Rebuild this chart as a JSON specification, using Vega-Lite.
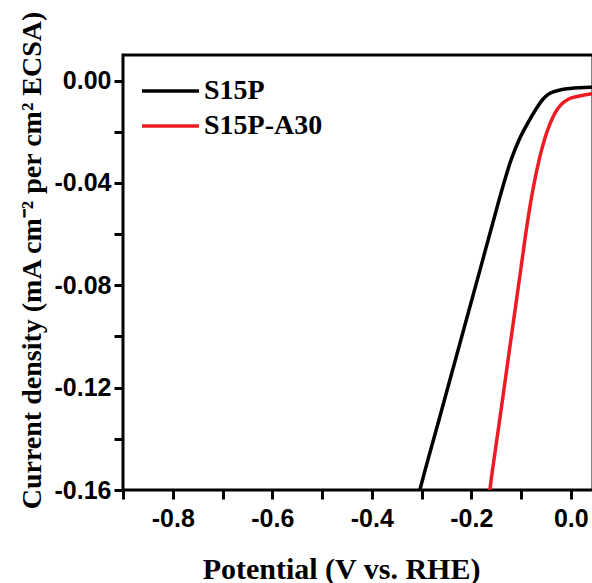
{
  "$schema": "https://vega.github.io/schema/vega-lite/v6.json",
  "autosize": {"type": "none"},
  "padding": {"left": 123, "top": 55, "right": 0, "bottom": 93},
  "width": 470,
  "height": 435,
  "background": "white",
  "config": {
    "view": {"stroke": "black", "strokeWidth": 3},
    "axis": {"domain": false, "grid": false, "tickColor": "black", "tickWidth": 3, "tickSize": 9, "labelFont": "Liberation Sans", "labelFontWeight": "bold", "labelFontSize": 25, "labelColor": "black", "titleFont": "Liberation Serif", "titleFontWeight": "bold", "titleColor": "black"}
  },
  "data": {"values": [
    {"V": -0.304, "I": -0.1605, "s": "S15P"},
    {"V": -0.302, "I": -0.159, "s": "S15P"},
    {"V": -0.2612, "I": -0.130, "s": "S15P"},
    {"V": -0.2248, "I": -0.1041, "s": "S15P"},
    {"V": -0.1809, "I": -0.0729, "s": "S15P"},
    {"V": -0.1589, "I": -0.0572, "s": "S15P"},
    {"V": -0.137, "I": -0.0418, "s": "S15P"},
    {"V": -0.120, "I": -0.0310, "s": "S15P"},
    {"V": -0.104, "I": -0.0232, "s": "S15P"},
    {"V": -0.087, "I": -0.0168, "s": "S15P"},
    {"V": -0.070, "I": -0.0112, "s": "S15P"},
    {"V": -0.056, "I": -0.0073, "s": "S15P"},
    {"V": -0.046, "I": -0.0055, "s": "S15P"},
    {"V": -0.035, "I": -0.0044, "s": "S15P"},
    {"V": -0.020, "I": -0.0036, "s": "S15P"},
    {"V": -0.0081, "I": -0.0032, "s": "S15P"},
    {"V": 0.0387, "I": -0.0026, "s": "S15P"},
    {"V": 0.05, "I": -0.0025, "s": "S15P"},
    {"V": -0.163, "I": -0.1605, "s": "S15P-A30"},
    {"V": -0.162, "I": -0.159, "s": "S15P-A30"},
    {"V": -0.141, "I": -0.130, "s": "S15P-A30"},
    {"V": -0.1205, "I": -0.1015, "s": "S15P-A30"},
    {"V": -0.0998, "I": -0.0729, "s": "S15P-A30"},
    {"V": -0.0885, "I": -0.0572, "s": "S15P-A30"},
    {"V": -0.0755, "I": -0.0420, "s": "S15P-A30"},
    {"V": -0.063, "I": -0.0305, "s": "S15P-A30"},
    {"V": -0.052, "I": -0.0225, "s": "S15P-A30"},
    {"V": -0.042, "I": -0.0170, "s": "S15P-A30"},
    {"V": -0.032, "I": -0.0128, "s": "S15P-A30"},
    {"V": -0.020, "I": -0.0095, "s": "S15P-A30"},
    {"V": -0.005, "I": -0.0073, "s": "S15P-A30"},
    {"V": 0.015, "I": -0.0061, "s": "S15P-A30"},
    {"V": 0.0387, "I": -0.0052, "s": "S15P-A30"},
    {"V": 0.05, "I": -0.0050, "s": "S15P-A30"}
  ]},
  "mark": {"type": "line", "strokeWidth": 3.5, "clip": true, "interpolate": "monotone"},
  "encoding": {
    "x": {"field": "V", "type": "quantitative", "scale": {"domain": [-0.9, 0.0447], "nice": false, "zero": false},
      "axis": {"values": [-0.9, -0.8, -0.7, -0.6, -0.5, -0.4, -0.3, -0.2, -0.1, 0.0], "labelExpr": "abs(round(datum.value*10)) % 2 == 0 ? replace(format(datum.value, '.1f'), '−', '-') : ''", "labelPadding": 7, "labelFlush": false, "labelOverlap": false,
        "title": "Potential (V vs. RHE)", "titleFontSize": 30, "titleX": 218, "titleY": 88, "titleBaseline": "alphabetic", "titleAlign": "center"}},
    "y": {"field": "I", "type": "quantitative", "scale": {"domain": [-0.16, 0.01], "nice": false, "zero": false},
      "axis": {"values": [-0.16, -0.14, -0.12, -0.10, -0.08, -0.06, -0.04, -0.02, 0.0], "labelExpr": "abs(round(datum.value*100)) % 4 == 0 ? replace(format(datum.value, '.2f'), '−', '-') : ''", "labelPadding": 3, "labelFlush": false, "labelOverlap": false,
        "title": "Current density (mA cm⁻² per cm² ECSA)", "titleFontSize": 28, "titleX": -83, "titleY": 205, "titleBaseline": "alphabetic", "titleAlign": "center", "titleAngle": -90}},
    "color": {"field": "s", "type": "nominal", "scale": {"domain": ["S15P", "S15P-A30"], "range": ["black", "#ed1c24"]},
      "legend": {"title": null, "orient": "none", "legendX": 17, "legendY": 22, "symbolType": "stroke", "symbolSize": 3249, "symbolStrokeWidth": 3.5, "labelFont": "Liberation Serif", "labelFontWeight": "bold", "labelFontSize": 28, "labelColor": "black", "labelOffset": 3, "rowPadding": 7, "clipHeight": 28, "padding": 0}}
  }
}
